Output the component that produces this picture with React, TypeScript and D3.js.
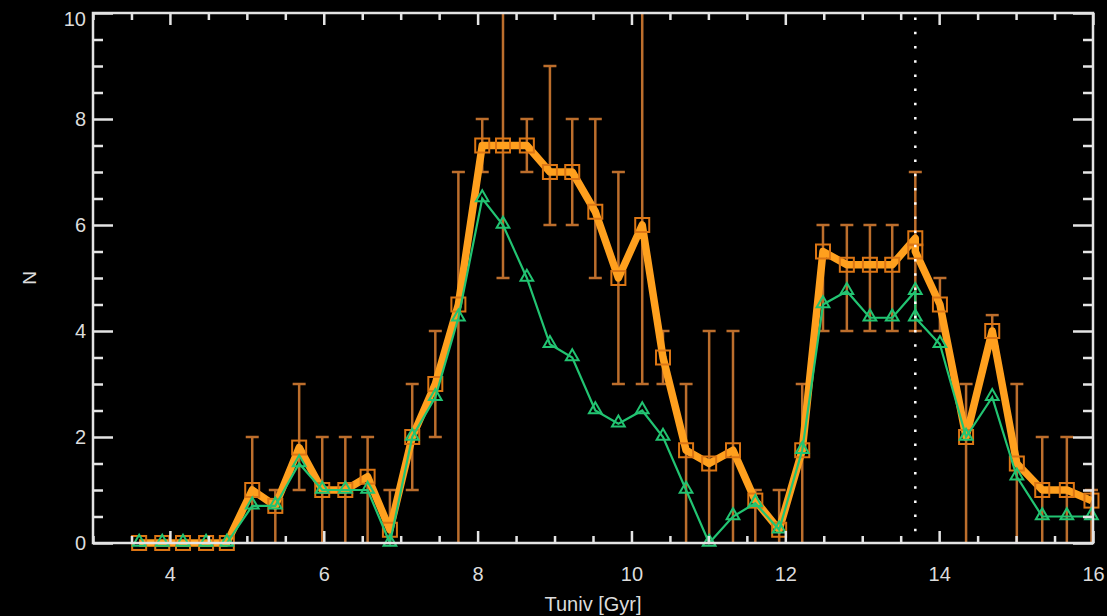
import { useEffect, useRef } from 'react'
import * as d3 from 'd3'

// lookback-time bins (Gyr); the bin at the dotted line appears twice
const tuniv = [3.6, 3.9, 4.17, 4.47, 4.74, 5.07, 5.37, 5.68, 5.98, 6.28, 6.57, 6.86, 7.15, 7.45, 7.75,
  8.06, 8.33, 8.64, 8.94, 9.23, 9.53, 9.83, 10.14, 10.41, 10.71, 11.01, 11.32, 11.61, 11.92, 12.22,
  12.49, 12.8, 13.1, 13.39, 13.69, 13.69, 14.01, 14.35, 14.69, 15.01, 15.34, 15.66, 15.98]

const nAll = [0, 0, 0, 0, 0, 1.0, 0.7, 1.8, 1.0, 1.0, 1.25, 0.25, 2.0, 3.0, 4.5,
  7.5, 7.5, 7.5, 7.0, 7.0, 6.25, 5.0, 6.0, 3.5, 1.75, 1.5, 1.75, 0.8, 0.25, 1.75,
  5.5, 5.25, 5.25, 5.25, 5.75, 5.5, 4.5, 2.0, 4.0, 1.5, 1.0, 1.0, 0.8]

const errLow = [0, 0, 0, 0, 0, 0, 0, 1, 0, 0, 0, 0, 1, 2, 0,
  7, 5, 7, 6, 6, 5, 3, 3, 3, 0, 0, 0, 0, 0, 0,
  4, 4, 4, 4, 4, 5.5, 4, 0, 3.7, 0, 0, 0, 0]

const errHigh = [0, 0, 0, 0, 0, 2, 1, 3, 2, 2, 2, 1, 3, 4, 7,
  8, 10, 8, 9, 8, 8, 7, 10, 4, 3, 4, 4, 1, 1, 3,
  6, 6, 6, 6, 7, 5.5, 5, 3, 4.3, 3, 2, 2, 1]

const nSub = [0, 0, 0, 0, 0, 0.7, 0.7, 1.5, 1.0, 1.0, 1.0, 0, 2.0, 2.75, 4.25,
  6.5, 6.0, 5.0, 3.75, 3.5, 2.5, 2.25, 2.5, 2.0, 1.0, 0, 0.5, 0.75, 0.25, 1.75,
  4.5, 4.75, 4.25, 4.25, 4.75, 4.25, 3.75, 2.0, 2.75, 1.25, 0.5, 0.5, 0.5]

const xMajor = [4, 6, 8, 10, 12, 14, 16]
const yMajor = [0, 2, 4, 6, 8, 10]
const todayAge = 13.69

const W = 1107
const H = 616
const left = 93, right = 1093, top = 13, bottom = 543

const ORANGE = '#ffa01e'
const ORANGE_DARK = '#dc7614'
const BAR = '#bc6e2c'
const GREEN = '#22c472'
const FG = '#e4e4e4'
const FONT = '"Liberation Sans", Arial, sans-serif'

export default function App() {
  const ref = useRef<SVGSVGElement>(null)

  const x = d3.scaleLinear().domain([3, 16]).range([left, right])
  const y = d3.scaleLinear().domain([0, 10]).range([bottom, top])

  const xMinor = d3.range(3, 16.01, 0.5).filter(v => !xMajor.includes(v))
  const yMinor = d3.range(0, 10.01, 0.5).filter(v => !yMajor.includes(v))

  useEffect(() => {
    const svg = d3.select(ref.current)

    const style = (g: any, labels: boolean) => {
      g.select('.domain').remove()
      g.selectAll('line').attr('stroke', FG).attr('stroke-width', 2.5)
      g.attr('font-family', FONT).attr('font-size', 20)
      g.selectAll('text').attr('fill', labels ? '#dcdcdc' : 'none')
    }

    svg.select('.x-bottom').call(d3.axisBottom(x).tickValues(xMajor).tickSize(-12).tickPadding(24).tickFormat(d3.format('d')) as any).call((g: any) => style(g, true))
    svg.select('.x-bottom-minor').call(d3.axisBottom(x).tickValues(xMinor).tickSize(-7).tickFormat(() => '') as any).call((g: any) => style(g, false))
    svg.select('.x-top').call(d3.axisTop(x).tickValues(xMajor).tickSize(-12).tickFormat(() => '') as any).call((g: any) => style(g, false))
    svg.select('.x-top-minor').call(d3.axisTop(x).tickValues(xMinor).tickSize(-7).tickFormat(() => '') as any).call((g: any) => style(g, false))
    svg.select('.y-left').call(d3.axisLeft(y).tickValues(yMajor).tickSize(-20).tickPadding(7).tickFormat(d3.format('d')) as any).call((g: any) => style(g, true))
    svg.select('.y-left-minor').call(d3.axisLeft(y).tickValues(yMinor).tickSize(-10).tickFormat(() => '') as any).call((g: any) => style(g, false))
    svg.select('.y-right').call(d3.axisRight(y).tickValues(yMajor).tickSize(-20).tickFormat(() => '') as any).call((g: any) => style(g, false))
    svg.select('.y-right-minor').call(d3.axisRight(y).tickValues(yMinor).tickSize(-10).tickFormat(() => '') as any).call((g: any) => style(g, false))

    // top label sits a little lower so it is not cut by the frame line
    svg.select('.y-left').selectAll('text').filter((d: any) => d === 10).attr('dy', '0.6em')
  }, [])

  const pts = tuniv.map((t, i) => ({ t, all: nAll[i], sub: nSub[i], lo: errLow[i], hi: errHigh[i] }))
  const lineAll = d3.line<any>().x(d => x(d.t)).y(d => y(d.all))
  const lineSub = d3.line<any>().x(d => x(d.t)).y(d => y(d.sub))
  const tri = d3.symbol().type(d3.symbolTriangle).size(70)

  return (
    <svg ref={ref} width={W} height={H} style={{ position: 'absolute', left: 0, top: 0, background: '#000' }}>
      <rect width={W} height={H} fill="#000" />

      {/* error bars */}
      <g stroke={BAR} strokeWidth={2.5}>
        {pts.filter(d => d.hi > d.lo).map((d, i) => (
          <g key={i}>
            <line x1={x(d.t)} x2={x(d.t)} y1={y(d.lo)} y2={y(d.hi)} />
            {d.hi < 10 && <line x1={x(d.t) - 6.5} x2={x(d.t) + 6.5} y1={y(d.hi)} y2={y(d.hi)} />}
            {d.lo > 0 && <line x1={x(d.t) - 6.5} x2={x(d.t) + 6.5} y1={y(d.lo)} y2={y(d.lo)} />}
          </g>
        ))}
      </g>

      <path d={lineAll(pts) || ''} fill="none" stroke={ORANGE} strokeWidth={7.5} strokeLinejoin="round" />
      {pts.map((d, i) => (
        <rect key={i} x={x(d.t) - 7} y={y(d.all) - 7} width={14} height={14} fill="none" stroke={ORANGE_DARK} strokeWidth={2} />
      ))}

      <path d={lineSub(pts) || ''} fill="none" stroke={GREEN} strokeWidth={2.2} />
      {pts.map((d, i) => (
        <path key={i} d={tri() || ''} transform={`translate(${x(d.t)},${y(d.sub) - 1})`} fill="none" stroke={GREEN} strokeWidth={2} />
      ))}

      <line x1={x(todayAge)} x2={x(todayAge)} y1={y(0)} y2={y(10)} stroke="#fff" strokeWidth={2.5} strokeDasharray="2.5 11.7" strokeDashoffset={2.5} />

      {/* frame */}
      <rect x={left} y={top} width={right - left} height={bottom - top} fill="none" stroke={FG} strokeWidth={2.5} />
      <g className="x-bottom" transform={`translate(0,${bottom})`} />
      <g className="x-bottom-minor" transform={`translate(0,${bottom})`} />
      <g className="x-top" transform={`translate(0,${top})`} />
      <g className="x-top-minor" transform={`translate(0,${top})`} />
      <g className="y-left" transform={`translate(${left},0)`} />
      <g className="y-left-minor" transform={`translate(${left},0)`} />
      <g className="y-right" transform={`translate(${right},0)`} />
      <g className="y-right-minor" transform={`translate(${right},0)`} />

      <text x={(left + right) / 2} y={611} textAnchor="middle" fill="#dcdcdc" fontSize={20} fontFamily={FONT}>Tuniv [Gyr]</text>
      <text transform={`translate(36,${(top + bottom) / 2}) rotate(-90)`} textAnchor="middle" fill="#dcdcdc" fontSize={19} fontFamily={FONT}>N</text>
    </svg>
  )
}
